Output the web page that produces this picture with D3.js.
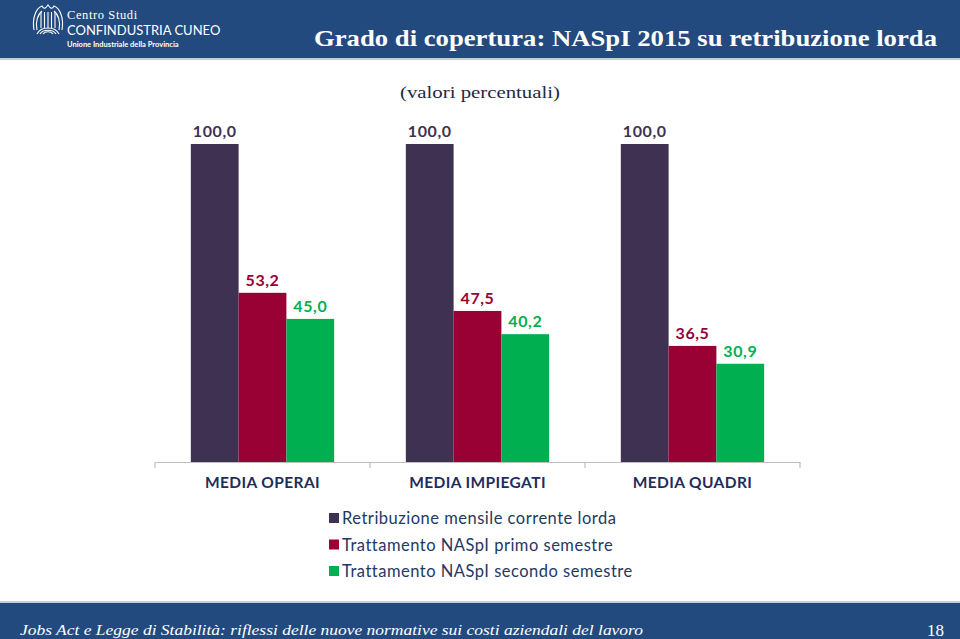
<!DOCTYPE html>
<html>
<head>
<meta charset="utf-8">
<script src="https://cdn.jsdelivr.net/npm/d3@7"></script>
<style>
  html, body { margin: 0; padding: 0; background: #fff; }
  svg { display: block; }
</style>
</head>
<body>
<svg id="chart" width="960" height="639"></svg>
<script>
const categories = ["MEDIA OPERAI", "MEDIA IMPIEGATI", "MEDIA QUADRI"];
const seriesNames = ["Retribuzione mensile corrente lorda", "Trattamento NASpI primo semestre", "Trattamento NASpI secondo semestre"];
const retribuzione = [100.0, 100.0, 100.0];
const primoSemestre = [53.2, 47.5, 36.5];
const secondoSemestre = [45.0, 40.2, 30.9];
const seriesColors = ["#3f3151", "#990033", "#00b050"];
const labelColors = ["#3f3151", "#990033", "#00b050"];

const seriesValues = [retribuzione, primoSemestre, secondoSemestre];
const fmt = v => d3.format(".1f")(v).replace(".", ",");

const svg = d3.select("#chart");

// Header band
svg.append("rect").attr("x", 0).attr("y", 0).attr("width", 960).attr("height", 58).attr("fill", "#234a7e");
svg.append("rect").attr("x", 0).attr("y", 58).attr("width", 960).attr("height", 2).attr("fill", "#c9ced6");

// Logo (stylized)
const logo = svg.append("g").attr("transform", "translate(32,4)").attr("stroke", "#fff").attr("fill", "none").attr("stroke-width", 1.1);
logo.append("path").attr("d", "M2,26 C0,14 4,4 10,2 C12,6 14,4 16,1 C18,4 20,6 22,2 C28,4 32,14 30,26");
logo.append("path").attr("d", "M5,26 C3,18 6,10 10,7 M27,26 C29,18 26,10 22,7");
[9, 12.5, 16, 19.5, 23].forEach(x => logo.append("line").attr("x1", x).attr("x2", x).attr("y1", 8).attr("y2", 24));
logo.append("path").attr("d", "M5,30 C9,22 23,22 27,30 M8,30 C11,25 21,25 24,30 M11,30 C13,27 19,27 21,30");

svg.append("text").attr("x", 67).attr("y", 19).attr("fill", "#fff")
  .attr("font-family", "Liberation Serif").attr("font-size", 12.5).attr("letter-spacing", 0.6).text("Centro Studi");
svg.append("text").attr("x", 67).attr("y", 35).attr("fill", "#fff")
  .attr("font-family", "Lato").attr("font-size", 13).text("CONFINDUSTRIA CUNEO");
svg.append("text").attr("x", 67).attr("y", 47).attr("fill", "#fff")
  .attr("font-family", "Lato").attr("font-weight", "bold").attr("font-size", 7.5).text("Unione Industriale della Provincia");

// Title
svg.append("text").attr("x", 314).attr("y", 46).attr("fill", "#fff")
  .attr("font-family", "Liberation Serif").attr("font-weight", "bold").attr("font-size", 23)
  .attr("textLength", 623).attr("lengthAdjust", "spacingAndGlyphs")
  .text("Grado di copertura: NASpI 2015 su retribuzione lorda");

// Subtitle
svg.append("text").attr("x", 400).attr("y", 98).attr("fill", "#1f2a44")
  .attr("font-family", "Liberation Serif").attr("font-size", 16)
  .attr("textLength", 160).attr("lengthAdjust", "spacingAndGlyphs")
  .text("(valori percentuali)");

// Scales
const x0 = d3.scaleBand().domain(categories).range([155, 800]).padding(0);
const x1 = d3.scaleBand().domain(d3.range(seriesNames.length)).range([0, x0.bandwidth()]).paddingInner(0).paddingOuter(0.75);
const y = d3.scaleLinear().domain([0, 100]).range([462, 144]);

// Bars
const groups = svg.append("g").selectAll("g").data(categories).join("g")
  .attr("transform", d => `translate(${x0(d)},0)`);

groups.each(function(cat, ci) {
  const g = d3.select(this);
  seriesValues.forEach((vals, si) => {
    const v = vals[ci];
    g.append("rect")
      .attr("x", x1(si)).attr("y", y(v))
      .attr("width", x1.bandwidth()).attr("height", y(0) - y(v))
      .attr("fill", seriesColors[si]);
    g.append("text")
      .attr("x", x1(si) + x1.bandwidth() / 2).attr("y", y(v) - 7)
      .attr("text-anchor", "middle").attr("fill", labelColors[si])
      .attr("font-family", "Lato").attr("font-weight", "bold").attr("font-size", 16)
      .attr("letter-spacing", 0.6)
      .text(fmt(v));
  });
});

// Axis
const axis = d3.axisBottom(x0).tickSize(0).tickPadding(15);
const ax = svg.append("g").attr("transform", "translate(0,462)").call(axis);
ax.select(".domain").attr("stroke", "#bfbfbf").attr("stroke-width", 1.2);
ax.selectAll(".tick text").attr("fill", "#1f2d5a").attr("font-family", "Lato").attr("font-weight", "bold")
  .attr("font-size", 15.5).attr("letter-spacing", 0.4);
const edges = categories.map(c => x0(c)).concat([x0.range()[1]]);
ax.selectAll(".sep").data(edges).join("line").attr("class", "sep")
  .attr("x1", d => d).attr("x2", d => d).attr("y1", 0).attr("y2", 6)
  .attr("stroke", "#bfbfbf").attr("stroke-width", 1.2);

// Legend
const legend = svg.append("g").attr("transform", "translate(329,513)");
seriesNames.forEach((name, i) => {
  const row = legend.append("g").attr("transform", `translate(0,${i * 26.5})`);
  row.append("rect").attr("x", 0).attr("y", 0).attr("width", 10).attr("height", 10).attr("fill", seriesColors[i]);
  row.append("text").attr("x", 13).attr("y", 11).attr("fill", "#1f3864")
    .attr("font-family", "Lato").attr("font-size", 16.5).attr("letter-spacing", 0.5).text(name);
});

// Footer
svg.append("rect").attr("x", 0).attr("y", 601).attr("width", 960).attr("height", 2).attr("fill", "#c9ced6");
svg.append("rect").attr("x", 0).attr("y", 603).attr("width", 960).attr("height", 36).attr("fill", "#234a7e");
svg.append("text").attr("x", 20).attr("y", 635).attr("fill", "#fff")
  .attr("font-family", "Liberation Serif").attr("font-style", "italic").attr("font-size", 15)
  .attr("textLength", 623).attr("lengthAdjust", "spacingAndGlyphs")
  .text("Jobs Act e Legge di Stabilità: riflessi delle nuove normative sui costi aziendali del lavoro");
svg.append("text").attr("x", 944).attr("y", 636).attr("fill", "#fff").attr("text-anchor", "end")
  .attr("font-family", "Liberation Serif").attr("font-size", 17).text("18");
</script>
</body>
</html>
